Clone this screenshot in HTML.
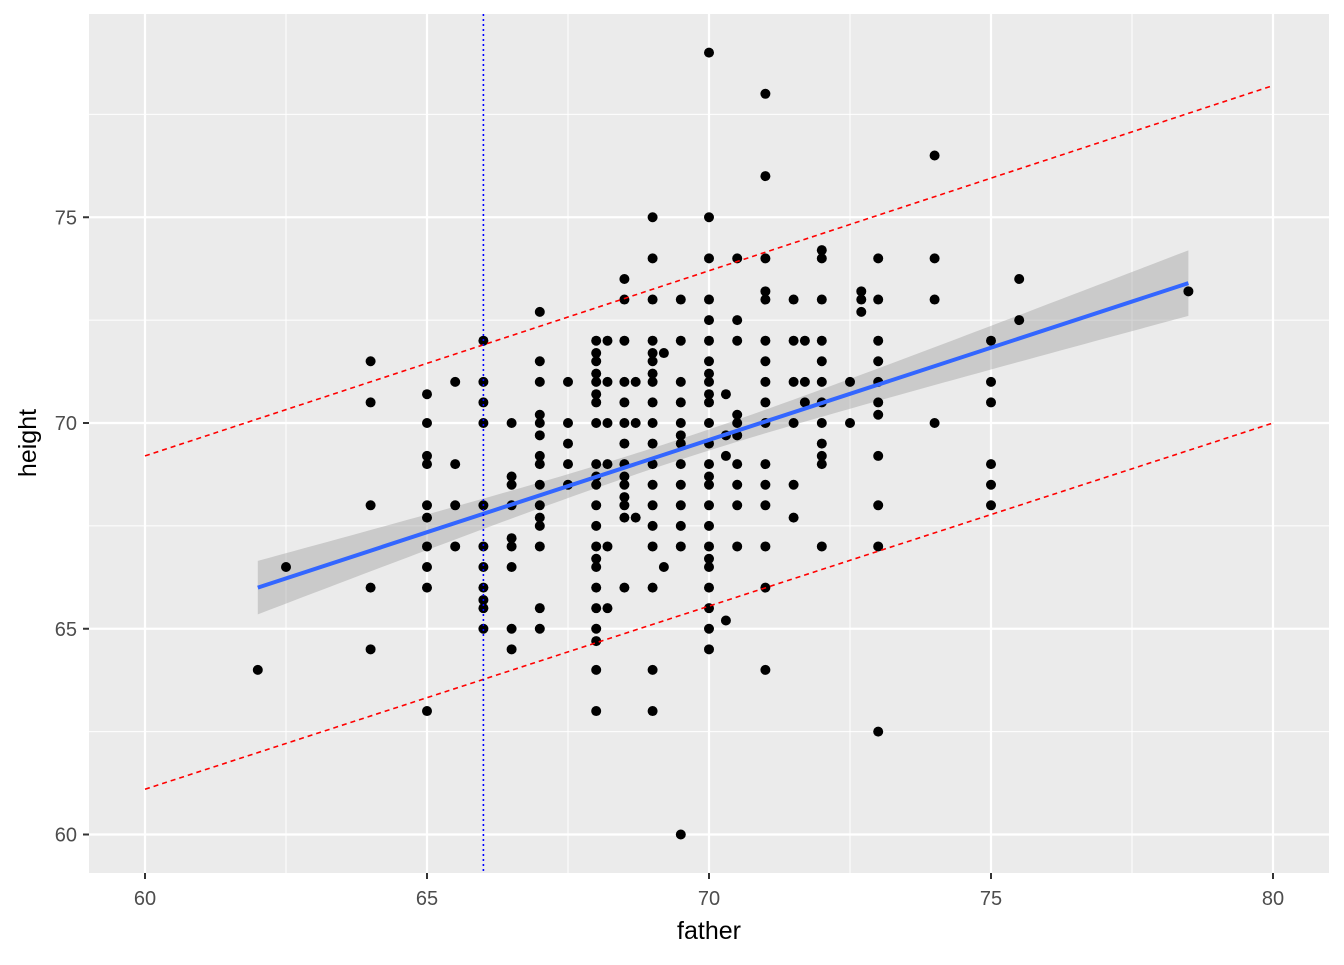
<!DOCTYPE html>
<html><head><meta charset="utf-8"><style>
body{margin:0;background:#fff}
text{font-family:"Liberation Sans",sans-serif}
</style></head><body>
<svg id="chart" width="1344" height="960" xmlns="http://www.w3.org/2000/svg">
<rect x="89" y="14" width="1240" height="859" fill="#ebebeb"/>
<g id="grid"></g>
<g id="band"></g>
<g id="pts"></g>
<g id="lines"></g>
<g id="axes"></g>
<text x="709" y="939" font-size="25" text-anchor="middle" fill="#000">father</text>
<text transform="translate(36,443) rotate(-90)" font-size="25" text-anchor="middle" fill="#000">height</text>
</svg>
<script>
const xTicks=[60,65,70,75,80];
const yTicks=[60,65,70,75];
const xMinor=[62.5,67.5,72.5,77.5];
const yMinor=[62.5,67.5,72.5,77.5];
const pointCols=[
[62,[64]],[62.5,[66.5]],
[64,[71.5,70.5,68,66,64.5]],
[65,[70.7,70,69.2,69,68,67.7,67,66.5,66,63]],
[65.5,[71,69,68,67]],
[66,[72,71,70.5,70,68,67,66.5,66,65.7,65.5,65]],
[66.5,[70,68.7,68.5,68,67.2,67,66.5,65,64.5]],
[67,[72.7,71.5,71,70.2,70,69.7,69.2,69,68.5,68,67.7,67.5,67,65.5,65]],
[67.5,[71,70,69.5,69,68.5]],
[68,[72,71.7,71.5,71.2,71,70.7,70.5,70,69,68.7,68.5,68,67.5,67,66.7,66.5,66,65.5,65,64.7,64,63]],
[68.2,[72,71,70,69,67,65.5]],
[68.5,[73.5,73,72,71,70.5,70,69.5,69,68.7,68.5,68.2,68,67.7,66]],
[68.7,[71,70,67.7]],
[69,[75,74,73,72,71.7,71.5,71.2,71,70.5,70,69.5,69,68.5,68,67.5,67,66,64,63]],
[69.2,[71.7,66.5]],
[69.5,[73,72,71,70.5,70,69.7,69.5,69,68.5,68,67.5,67,60]],
[70,[79,75,74,73,72.5,72,71.5,71.2,71,70.7,70.5,70,69.5,69,68.7,68.5,68,67.5,67,66.7,66.5,66,65.5,65,64.5]],
[70.3,[70.7,69.7,69.2,65.2]],
[70.5,[74,72.5,72,70.2,70,69.7,69,68.5,68,67]],
[71,[78,76,74,73.2,73,72,71.5,71,70.5,70,69,68.5,68,67,66,64]],
[71.5,[73,72,71,70,68.5,67.7]],
[71.7,[72,71,70.5]],
[72,[74.2,74,73,72,71.5,71,70.5,70,69.5,69.2,69,67]],
[72.5,[71,70]],
[72.7,[73.2,73,72.7]],
[73,[74,73,72,71.5,71,70.5,70.2,69.2,68,67,62.5]],
[74,[76.5,74,73,70]],
[75,[72,71,70.5,69,68.5,68]],
[75.5,[73.5,72.5]],
[78.5,[73.2]]
];
const fitX=[62,78.5];
const fitY=[66.0,73.4];
const ciMid=69.3, ciA=0.0625, ciB=0.00675;
const predX=[60,80];
const predUpper=[69.2,78.2];
const predLower=[61.1,70.0];
const vLineX=66;

const sx=v=>145+(v-60)*56.4;
const sy=v=>423-(v-70)*41.15;
const NS="http://www.w3.org/2000/svg";
function mk(tag,attrs,parent){const e=document.createElementNS(NS,tag);for(const k in attrs)e.setAttribute(k,attrs[k]);parent.appendChild(e);return e;}
const grid=document.getElementById('grid'),band=document.getElementById('band'),pts=document.getElementById('pts'),lines=document.getElementById('lines'),axes=document.getElementById('axes');
xMinor.forEach(v=>{const e=mk('line',{x1:sx(v),x2:sx(v),y1:14,y2:873,stroke:'#fff','stroke-width':1},grid);

});
yMinor.forEach(v=>{const e=mk('line',{x1:89,x2:1329,y1:sy(v),y2:sy(v),stroke:'#fff','stroke-width':1},grid);

});
xTicks.forEach(v=>{const e=mk('line',{x1:sx(v),x2:sx(v),y1:14,y2:873,stroke:'#fff','stroke-width':2.2},grid);


const t=mk('line',{x1:sx(v),x2:sx(v),y1:873,y2:879,stroke:'#333','stroke-width':2},axes);


const l=mk('text',{x:sx(v),y:905,'font-size':20,'text-anchor':'middle',fill:'#4d4d4d'},axes);l.textContent=v;

});
yTicks.forEach(v=>{const e=mk('line',{x1:89,x2:1329,y1:sy(v),y2:sy(v),stroke:'#fff','stroke-width':2.2},grid);


const t=mk('line',{x1:83,x2:89,y1:sy(v),y2:sy(v),stroke:'#333','stroke-width':2},axes);


const l=mk('text',{x:77,y:sy(v)+7,'font-size':20,'text-anchor':'end',fill:'#4d4d4d'},axes);l.textContent=v;

});
pointCols.forEach(([x,ys])=>ys.forEach(y=>{const c=mk('circle',{cx:sx(x),cy:sy(y),r:5,fill:'#000'},pts);

}));
// CI band
const slope=(fitY[1]-fitY[0])/(fitX[1]-fitX[0]);
const fy=x=>fitY[0]+slope*(x-fitX[0]);
const hw=x=>Math.sqrt(ciA+ciB*(x-ciMid)**2);
let up=[],lo=[];
for(let i=0;i<=80;i++){const x=fitX[0]+(fitX[1]-fitX[0])*i/80;up.push(sx(x)+','+sy(fy(x)+hw(x)));lo.unshift(sx(x)+','+sy(fy(x)-hw(x)));}
const b=mk('polygon',{points:up.concat(lo).join(' '),fill:'#999','fill-opacity':0.4},band);


const f=mk('line',{x1:sx(fitX[0]),y1:sy(fitY[0]),x2:sx(fitX[1]),y2:sy(fitY[1]),stroke:'#3366ff','stroke-width':4},lines);


const pu=mk('line',{x1:sx(predX[0]),y1:sy(predUpper[0]),x2:sx(predX[1]),y2:sy(predUpper[1]),stroke:'#ff0000','stroke-width':1.6,'stroke-dasharray':'5,4'},lines);


const pl=mk('line',{x1:sx(predX[0]),y1:sy(predLower[0]),x2:sx(predX[1]),y2:sy(predLower[1]),stroke:'#ff0000','stroke-width':1.6,'stroke-dasharray':'5,4'},lines);


const vl=mk('line',{x1:sx(vLineX),x2:sx(vLineX),y1:14,y2:873,stroke:'#0000ff','stroke-width':1.6,'stroke-dasharray':'2,3'},lines);


</script>
</body></html>
